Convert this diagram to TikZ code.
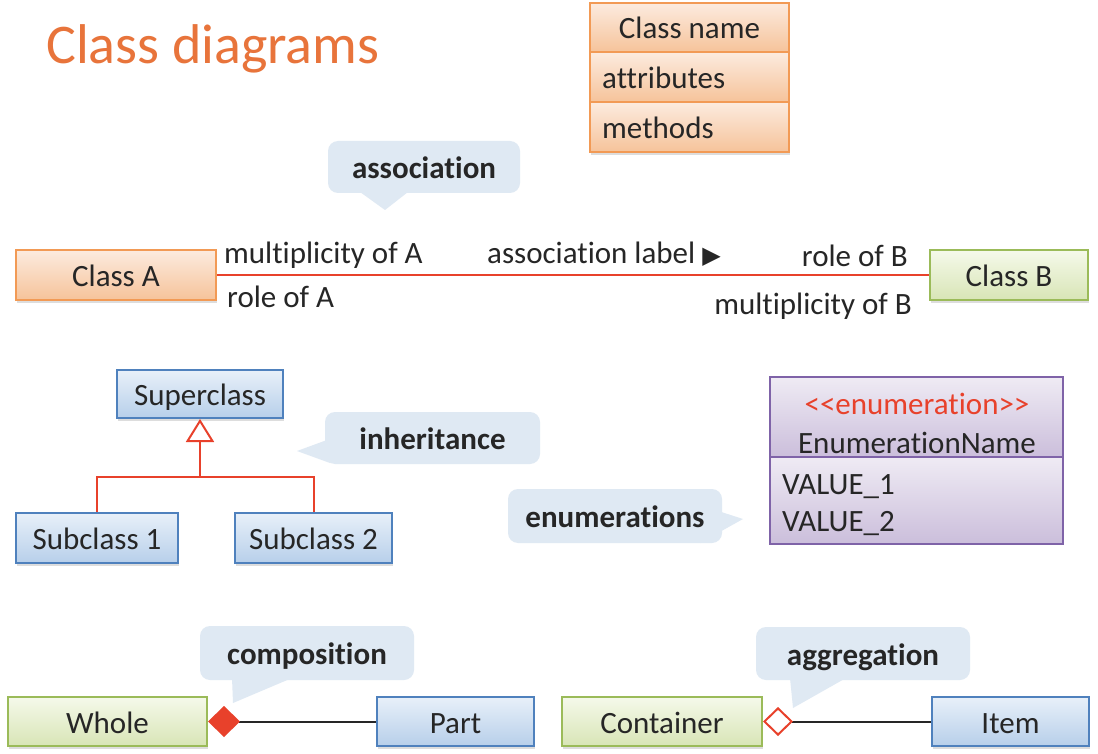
\documentclass[tikz,border=0pt]{standalone}
\usepackage{fontspec}
\setmainfont[Ligatures={TeX,NoCommon}]{Carlito}
\newfontfamily\symfont{DejaVu Sans}
\usetikzlibrary{arrows.meta,shadows}

\definecolor{titleor}{HTML}{E8743B}
\definecolor{txt}{HTML}{262626}
\definecolor{orbd}{HTML}{F29A55}
\definecolor{ortop}{HTML}{FCEBDF}
\definecolor{orbot}{HTML}{F6C39A}
\definecolor{grbd}{HTML}{9BBB59}
\definecolor{grtop}{HTML}{F5F9EA}
\definecolor{grbot}{HTML}{D8E5B6}
\definecolor{blbd}{HTML}{4F81BD}
\definecolor{bltop}{HTML}{E8F0F9}
\definecolor{blbot}{HTML}{B7CFEA}
\definecolor{pubd}{HTML}{7F63A8}
\definecolor{putop}{HTML}{EFEBF4}
\definecolor{pubot}{HTML}{CBBEDB}
\definecolor{callbg}{HTML}{DFE9F3}
\definecolor{linered}{HTML}{E8412B}

\begin{document}
\begin{tikzpicture}[x=1pt,y=-1pt,
  every node/.style={font=\fontsize{31}{36}\selectfont, text=txt, inner sep=0pt},
  shad/.style={drop shadow={shadow xshift=1pt, shadow yshift=-3pt, opacity=0.22, fill=black!60}},
  btext/.style={text height=23pt, text depth=0pt},
  orbox/.style={draw=orbd, line width=2pt, top color=ortop, bottom color=orbot, shad, btext},
  grbox/.style={draw=grbd, line width=2pt, top color=grtop, bottom color=grbot, shad, btext},
  blbox/.style={draw=blbd, line width=2pt, top color=bltop, bottom color=blbot, shad, btext},
  pubox/.style={draw=pubd, line width=2pt, top color=putop, bottom color=pubot},
  callout/.style={fill=callbg, rounded corners=10pt, btext, font=\fontsize{31}{36}\selectfont\bfseries},
  redln/.style={draw=linered, line width=2pt},
  blkln/.style={draw=txt, line width=2pt},
  titletext/.style={font=\fontsize{56}{60}\selectfont, text=titleor}
]
\useasboundingbox (0,0) rectangle (1098,754);
\fill[white] (0,0) rectangle (1098,754);

% title
\node[titletext, anchor=base west] (title) at (46,64) {Class diagrams};

% class template
\node[orbox, minimum width=199pt, minimum height=49pt] (cname) at (689.5,27.5) {Class name};
\node[orbox, minimum width=199pt, minimum height=50pt] (cattr) at (689.5,77) {};
\node[orbox, minimum width=199pt, minimum height=50pt] (cmeth) at (689.5,127) {};
\node[anchor=base west] (attrtxt) at (602,89) {attributes};
\node[anchor=base west] (methtxt) at (602,139) {methods};

% association
\node[callout, minimum width=192pt, minimum height=52pt] (assocC) at (424,167) {association};
\fill[callbg] (360,192) -- (385,210) -- (408,192) -- cycle;

\node[orbox, minimum width=200pt, minimum height=50pt] (classA) at (116,275) {Class A};
\node[grbox, minimum width=158pt, minimum height=50pt] (classB) at (1009,275) {Class B};
\draw[redln] (classA.east) -- (classB.west);
\node[anchor=base west] (multA) at (224,264) {multiplicity of A};
\node[anchor=base west] (roleA) at (227,307) {role of A};
\node[anchor=base west] (alabel) at (487,264) {association label {\symfont\fontsize{24}{24}\selectfont ▶}};
\node[anchor=base east] (roleB) at (908,266) {role of B};
\node[anchor=base east] (multB) at (912,314) {multiplicity of B};

% inheritance
\node[blbox, minimum width=166pt, minimum height=48pt] (super) at (200,394) {Superclass};
\node[blbox, minimum width=162pt, minimum height=50pt] (sub1) at (97,538) {Subclass 1};
\node[blbox, minimum width=157pt, minimum height=50pt] (sub2) at (313.5,538) {Subclass 2};
\coordinate (junc) at (200,477);
\draw[redln] (sub1.north) |- (junc) -| (sub2.north);
\draw[redln, -{Triangle[open, length=23pt, width=28pt, fill=white]}] (junc) -- (super.south);

\node[callout, minimum width=215pt, minimum height=52pt] (inhC) at (432.5,438) {inheritance};
\fill[callbg] (327,440) -- (297,451) -- (330,463) -- cycle;

% enumeration
\node[pubox, minimum width=293pt, minimum height=80pt] (enumTop) at (916.5,417) {};
\node[pubox, minimum width=293pt, minimum height=87pt] (enumBot) at (916.5,500.5) {};
\node[anchor=base, text=linered] (stereo) at (917,414) {<\kern0pt<enumeration>\kern0pt>};
\node[anchor=base] (ename) at (917,453) {EnumerationName};
\node[anchor=base west] (val1) at (782,494) {VALUE\_1};
\node[anchor=base west] (val2) at (782,531) {VALUE\_2};

\node[callout, minimum width=214pt, minimum height=54pt] (enumC) at (615,516) {enumerations};
\fill[callbg] (712,509) -- (743,519) -- (700,543) -- cycle;

% composition
\node[grbox, minimum width=199pt, minimum height=49pt] (whole) at (107.5,721.5) {Whole};
\node[blbox, minimum width=157pt, minimum height=49pt] (part) at (455.5,721.5) {Part};
\draw[blkln, -{Diamond[length=32pt, width=31pt, color=linered, fill=linered]}] (part.west) -- (whole.east);
\node[callout, minimum width=214pt, minimum height=54pt] (compC) at (307,653) {composition};
\fill[callbg] (232,678) -- (233,703) -- (292,678) -- cycle;

% aggregation
\node[grbox, minimum width=200pt, minimum height=49pt] (container) at (662,721.5) {Container};
\node[blbox, minimum width=157pt, minimum height=49pt] (item) at (1010.5,721.5) {Item};
\draw[blkln, -{Diamond[length=30pt, width=29pt, color=linered, fill=white]}] (item.west) -- (container.east);
\node[callout, minimum width=214pt, minimum height=53pt] (aggC) at (863,653.5) {aggregation};
\fill[callbg] (790,678) -- (793,708) -- (846,678) -- cycle;
\end{tikzpicture}
\end{document}
